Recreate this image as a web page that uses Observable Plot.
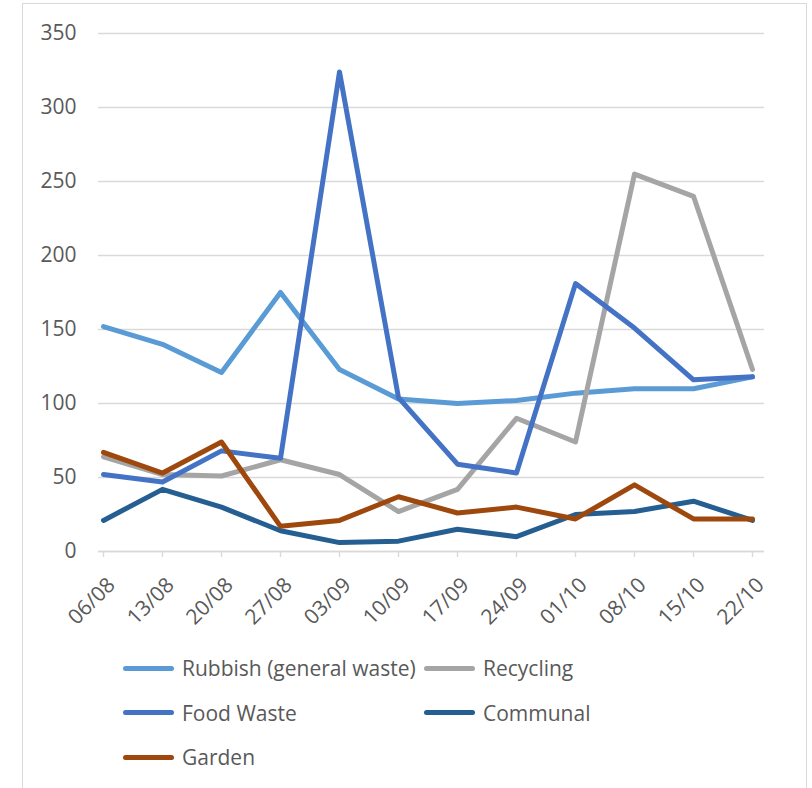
<!DOCTYPE html>
<html>
<head>
<meta charset="utf-8">
<script src="https://cdn.jsdelivr.net/npm/d3@7"></script>
<script src="https://cdn.jsdelivr.net/npm/@observablehq/plot@0.6"></script>
<style>
  html, body { margin: 0; padding: 0; background: #fff; }
  #wrap { position: relative; width: 812px; height: 788px; overflow: hidden; font-family: "Open Sans", sans-serif; }
  #frame { position: absolute; left: 22px; top: 3px; width: 785px; height: 820px; border: 1px solid #d9d9d9; box-sizing: border-box; }
  #chart { position: absolute; left: 0; top: 0; }
  #legend { position: absolute; left: 123px; top: 646px; display: grid; grid-template-columns: 301px 301px; grid-auto-rows: 44.5px; }
  .item { display: flex; align-items: center; color: #595959; font-size: 21px; white-space: nowrap; }
  .sw { display: inline-block; width: 51px; height: 5px; border-radius: 3px; margin-right: 8px; }
</style>
</head>
<body>
<div id="wrap">
  <div id="frame"></div>
  <div id="chart"></div>
  <div id="legend"></div>
</div>
<script>
const dates = ["06/08","13/08","20/08","27/08","03/09","10/09","17/09","24/09","01/10","08/10","15/10","22/10"];
const rubbish   = [152,140,121,175,123,103,100,102,107,110,110,118];
const recycling = [64,52,51,62,52,27,42,90,74,255,240,123];
const foodWaste = [52,47,68,63,324,104,59,53,181,151,116,118];
const communal  = [21,42,30,14,6,7,15,10,25,27,34,21];
const garden    = [67,53,74,17,21,37,26,30,22,45,22,22];
const seriesNames = ["Rubbish (general waste)","Recycling","Food Waste","Communal","Garden"];
const seriesColors = ["#5B9BD5","#A5A5A5","#4472C4","#255E91","#9E480E"];
const yTicks = [0,50,100,150,200,250,300,350];

const seriesValues = [rubbish, recycling, foodWaste, communal, garden];
const data = seriesNames.flatMap((name, s) => dates.map((d, i) => ({date: d, value: seriesValues[s][i], series: name})));

const chart = Plot.plot({
  width: 812,
  height: 650,
  marginLeft: 98,
  marginRight: 56,
  marginTop: 33,
  marginBottom: 99,
  style: {fontFamily: "Open Sans, sans-serif", fontSize: "21px", color: "#595959", background: "transparent", overflow: "visible"},
  x: {type: "point", domain: dates, padding: 0, label: null},
  y: {domain: [0, 350], label: null},
  color: {domain: seriesNames, range: seriesColors},
  marks: [
    Plot.gridY(yTicks, {stroke: "#d9d9d9", strokeOpacity: 1, strokeWidth: 1.3, insetRight: -8}),
    Plot.ruleY([0], {stroke: "#d9d9d9", strokeWidth: 1.6, insetRight: -8}),
    Plot.axisY(yTicks, {tickSize: 0, tickPadding: 22, fill: "#595959", fontSize: 21, label: null}),
    Plot.axisX({tickSize: 6, text: null, stroke: "#d9d9d9", strokeWidth: 1.4, label: null}),
    Plot.axisX({tickSize: 0, tickPadding: 12, dx: 8, dy: 18, tickRotate: -45, fill: "#595959", fontSize: 21, label: null}),
    Plot.line(data, {x: "date", y: "value", z: "series", stroke: "series", strokeWidth: 5, strokeLinejoin: "round", strokeLinecap: "round"})
  ]
});
document.getElementById("chart").appendChild(chart);

const legend = document.getElementById("legend");
seriesNames.forEach((name, i) => {
  const item = document.createElement("div");
  item.className = "item";
  const sw = document.createElement("span");
  sw.className = "sw";
  sw.style.background = seriesColors[i];
  item.appendChild(sw);
  item.appendChild(document.createTextNode(name));
  legend.appendChild(item);
});
</script>
</body>
</html>
